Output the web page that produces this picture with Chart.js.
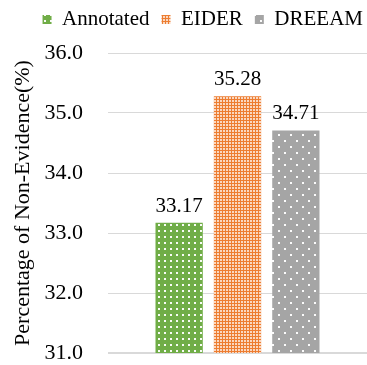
<!DOCTYPE html>
<html>
<head>
<meta charset="utf-8">
<script src="https://cdn.jsdelivr.net/npm/chart.js@4/dist/chart.umd.min.js"></script>
<style>
  html, body { margin: 0; padding: 0; background: #fff; overflow: hidden; }
  #wrap { position: relative; width: 367px; height: 365px; }
</style>
</head>
<body>
<div id="wrap"><canvas id="c"></canvas></div>
<script>
// Values
const categories = [''];
const seriesNames = ['Annotated', 'EIDER', 'DREEAM'];
const annotated = [33.17];
const eider = [35.28];
const dreeam = [34.71];
const yMin = 31.0;
const yMax = 36.0;
const yStep = 1.0;

// Dotted fill patterns
function makePattern(base, size, dots, alpha) {
  const cv = document.createElement('canvas');
  cv.width = size; cv.height = size;
  const g = cv.getContext('2d');
  g.fillStyle = base;
  g.fillRect(0, 0, size, size);
  g.fillStyle = 'rgba(255,255,255,' + alpha + ')';
  dots.forEach(d => g.fillRect(d[0], d[1], d[2], d[3]));
  return g.createPattern(cv, 'repeat');
}
const ctx = document.getElementById('c').getContext('2d');
const greenFill = makePattern('#70AD47', 6, [[2, 2, 2, 2]], 0.95);
const orangeFill = makePattern('#ED7D31', 3, [[1, 1, 2, 2]], 0.7);
const grayFill = makePattern('#A5A5A5', 12, [[2, 2, 2, 2], [8, 8, 2, 2]], 0.95);

const serif = '"Liberation Serif", "Times New Roman", Times, serif';

// Draws each bar's value above it
const valueLabels = {
  id: 'valueLabels',
  afterDatasetsDraw(chart) {
    const c = chart.ctx;
    c.save();
    c.font = '21px ' + serif;
    c.fillStyle = '#000';
    c.textAlign = 'center';
    c.textBaseline = 'bottom';
    chart.data.datasets.forEach((ds, i) => {
      chart.getDatasetMeta(i).data.forEach((el, j) => {
        c.fillText(ds.data[j].toFixed(2), el.x, el.y - 6);
      });
    });
    c.restore();
  }
};

// Nudges the legend block toward the top-right corner
const legendShift = {
  id: 'legendShift',
  afterLayout(chart) {
    const lg = chart.legend;
    if (!lg) return;
    lg.left += 8; lg.right += 8;
    lg.top -= 13; lg.bottom -= 13;
  }
};

function build() {
  new Chart(ctx, {
    type: 'bar',
    data: {
      labels: categories,
      datasets: [
        { label: seriesNames[0], data: annotated, backgroundColor: greenFill },
        { label: seriesNames[1], data: eider, backgroundColor: orangeFill },
        { label: seriesNames[2], data: dreeam, backgroundColor: grayFill }
      ]
    },
    options: {
      responsive: true,
      maintainAspectRatio: false,
      animation: false,
      devicePixelRatio: 1,
      layout: { padding: { left: 4, right: 0, top: 10, bottom: 12 } },
      datasets: { bar: { categoryPercentage: 0.676, barPercentage: 0.81 } },
      plugins: {
        legend: {
          position: 'top',
          align: 'end',
          labels: {
            font: { family: serif, size: 21 },
            color: '#000',
            boxWidth: 9,
            boxHeight: 9,
            padding: 12
          }
        },
        tooltip: { enabled: false },
        title: { display: false }
      },
      scales: {
        x: { display: false },
        y: {
          min: yMin,
          max: yMax,
          afterFit: s => {
            s.width = 104;
            s.paddingTop = 0;
            s.paddingBottom = 0;
          },
          ticks: {
            stepSize: yStep,
            callback: v => Number(v).toFixed(1),
            font: { family: serif, size: 22 },
            color: '#000',
            padding: 25
          },
          grid: {
            color: '#d9d9d9',
            lineWidth: c => (c.tick && c.tick.value === yMin ? 2 : 1),
            drawTicks: false
          },
          border: { display: false },
          title: {
            display: true,
            text: 'Percentage of Non-Evidence(%)',
            font: { family: serif, size: 22 },
            color: '#000',
            padding: { top: 6, bottom: 0 }
          }
        }
      }
    },
    plugins: [valueLabels, legendShift]
  });
}

document.fonts.load('21px "Liberation Serif"').then(build, build);
</script>
</body>
</html>
